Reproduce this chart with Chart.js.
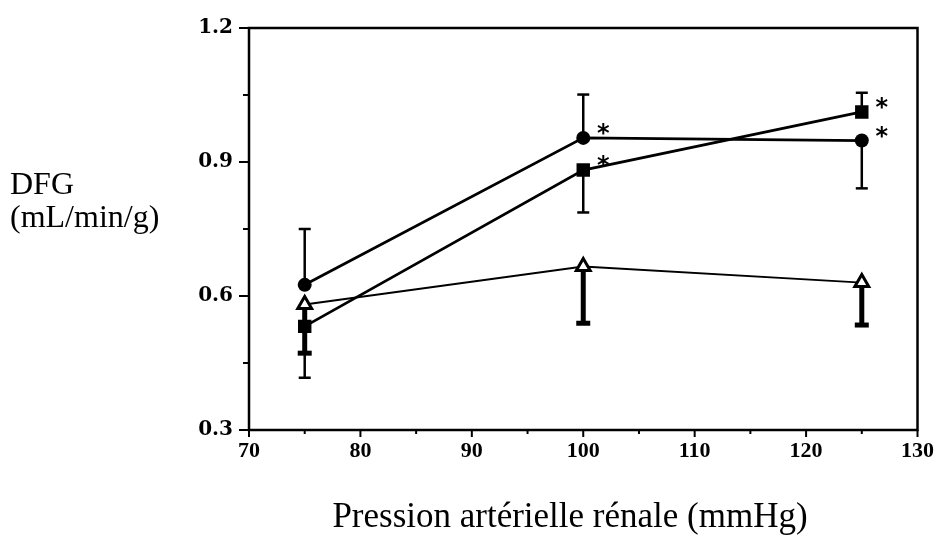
<!DOCTYPE html>
<html>
<head>
<meta charset="utf-8">
<script src="https://cdn.jsdelivr.net/npm/chart.js@4"></script>
<style>
  html, body { margin: 0; padding: 0; background: #fff; }
  #wrap { width: 942px; height: 544px; }
</style>
</head>
<body>
<div id="wrap"><canvas id="chart"></canvas></div>
<script>
// Pression artérielle rénale (mmHg)
const pressure = [75, 100, 125];

// DFG (mL/min/g), one array per group
const dfgCircle = [0.625, 0.954, 0.948];
const dfgSquare = [0.532, 0.882, 1.012];
const dfgTriangle = [0.581, 0.666, 0.630];

// end of the one-sided error bar of each point
const errCircle = [0.750, 1.051, 0.841];
const errSquare = [0.417, 0.787, 1.055];
const errTriangle = [0.472, 0.539, 0.535];

// significance asterisks
const starCircle = [false, true, true];
const starSquare = [false, true, true];

// tick labels
const xTickLabels = [70, 80, 90, 100, 110, 120, 130];
const yTickLabels = [0.3, 0.6, 0.9, 1.2];

const toPoints = (ys) => pressure.map((x, i) => ({ x: x, y: ys[i] }));

// Error bars, frame, ticks, asterisks and axis titles
const paperPlugin = {
    id: 'paper',
    beforeDatasetsDraw: function(chart) {
        const ctx = chart.ctx;
        const xs = chart.scales.x;
        const ys = chart.scales.y;
        const bars = [
            { means: dfgCircle, ends: errCircle, stem: 2.5, cap: 12 },
            { means: dfgSquare, ends: errSquare, stem: 2.5, cap: 12 },
            { means: dfgTriangle, ends: errTriangle, stem: 5, cap: 14 }
        ];
        ctx.save();
        ctx.strokeStyle = '#000';
        bars.forEach(b => {
            pressure.forEach((p, i) => {
                const px = xs.getPixelForValue(p);
                const y0 = ys.getPixelForValue(b.means[i]);
                const y1 = ys.getPixelForValue(b.ends[i]);
                ctx.lineWidth = b.stem;
                ctx.beginPath();
                ctx.moveTo(px, y0);
                ctx.lineTo(px, y1);
                ctx.stroke();
                ctx.beginPath();
                ctx.moveTo(px - b.cap / 2, y1);
                ctx.lineTo(px + b.cap / 2, y1);
                ctx.stroke();
            });
        });
        ctx.restore();
    },
    afterDraw: function(chart) {
        const ctx = chart.ctx;
        const area = chart.chartArea;
        const xs = chart.scales.x;
        const ys = chart.scales.y;
        ctx.save();
        ctx.strokeStyle = '#000';
        ctx.lineWidth = 2.5;
        ctx.strokeRect(area.left, area.top, area.right - area.left, area.bottom - area.top);

        // tick marks, longer where there is a label
        ctx.lineWidth = 2;
        xs.ticks.forEach(t => {
            const px = xs.getPixelForValue(t.value);
            const len = xTickLabels.includes(Math.round(t.value)) ? 7 : 4;
            ctx.beginPath();
            ctx.moveTo(px, area.bottom);
            ctx.lineTo(px, area.bottom + len);
            ctx.stroke();
        });
        ys.ticks.forEach(t => {
            const py = ys.getPixelForValue(t.value);
            const major = yTickLabels.some(v => Math.abs(v - t.value) < 1e-6);
            const len = major ? 10 : 6;
            ctx.beginPath();
            ctx.moveTo(area.left, py);
            ctx.lineTo(area.left - len, py);
            ctx.stroke();
        });

        // asterisks
        ctx.fillStyle = '#000';
        ctx.font = 'bold 24px "DejaVu Sans"';
        ctx.textAlign = 'center';
        ctx.textBaseline = 'alphabetic';
        const stars = [
            { means: dfgCircle, flags: starCircle },
            { means: dfgSquare, flags: starSquare }
        ];
        stars.forEach(s => {
            pressure.forEach((p, i) => {
                if (!s.flags[i]) return;
                const px = xs.getPixelForValue(p);
                const py = ys.getPixelForValue(s.means[i]);
                ctx.fillText('*', px + 20, py - 11 + 14);
            });
        });

        // axis titles
        ctx.font = '32px "Liberation Serif"';
        ctx.textAlign = 'left';
        ctx.fillText('DFG', 10, 194);
        ctx.fillText('(mL/min/g)', 10, 227);
        ctx.font = '35px "Liberation Serif"';
        ctx.textAlign = 'center';
        ctx.fillText('Pression artérielle rénale (mmHg)', 570, 527);
        ctx.restore();
    }
};

const lineStyle = {
    showLine: true,
    borderColor: '#000',
    pointBorderColor: '#000',
    pointBackgroundColor: '#000',
    pointHoverRadius: 0
};

new Chart(document.getElementById('chart'), {
    type: 'scatter',
    data: {
        datasets: [
            Object.assign({}, lineStyle, {
                label: 'Triangle',
                data: toPoints(dfgTriangle),
                borderWidth: 1.8,
                pointStyle: 'triangle',
                pointRadius: 8,
                pointBorderWidth: 3,
                pointBackgroundColor: '#fff'
            }),
            Object.assign({}, lineStyle, {
                label: 'Carré',
                data: toPoints(dfgSquare),
                borderWidth: 2.8,
                pointStyle: 'rect',
                pointRadius: 9.5,
                pointBorderWidth: 0
            }),
            Object.assign({}, lineStyle, {
                label: 'Cercle',
                data: toPoints(dfgCircle),
                borderWidth: 2.8,
                pointStyle: 'circle',
                pointRadius: 7,
                pointBorderWidth: 0
            })
        ]
    },
    options: {
        responsive: true,
        maintainAspectRatio: false,
        animation: false,
        layout: { padding: { top: 16, right: 21, left: 0, bottom: 0 } },
        plugins: {
            legend: { display: false },
            tooltip: { enabled: false }
        },
        scales: {
            x: {
                type: 'linear',
                min: 70,
                max: 130,
                grid: { display: false, drawTicks: false },
                border: { display: false },
                ticks: {
                    stepSize: 5,
                    autoSkip: false,
                    maxRotation: 0,
                    padding: 8,
                    color: '#000',
                    font: { family: '"Liberation Serif"', size: 22, weight: 'bold' },
                    callback: function(v) {
                        return xTickLabels.includes(Math.round(v)) ? String(Math.round(v)) : '';
                    }
                },
                afterFit: function(scale) { scale.height = 114; }
            },
            y: {
                min: 0.3,
                max: 1.2,
                grid: { display: false, drawTicks: false },
                border: { display: false },
                ticks: {
                    stepSize: 0.15,
                    autoSkip: false,
                    padding: 16,
                    color: '#000',
                    font: { family: '"DejaVu Serif"', size: 20, weight: 'bold' },
                    callback: function(v) {
                        return yTickLabels.some(t => Math.abs(t - v) < 1e-6) ? v.toFixed(1) : '';
                    }
                },
                afterFit: function(scale) { scale.width = 249; }
            }
        }
    },
    plugins: [paperPlugin]
});
</script>
</body>
</html>
